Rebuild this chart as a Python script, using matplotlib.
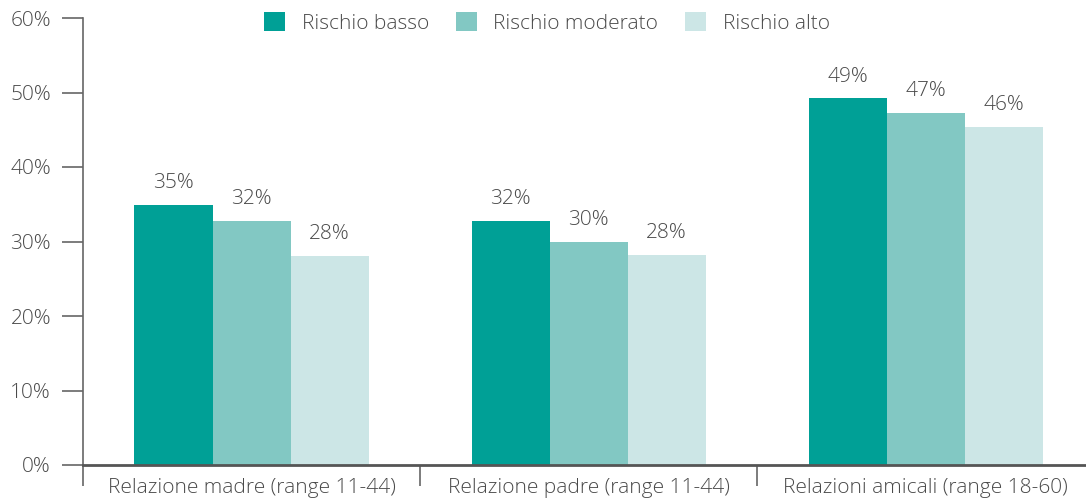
import numpy as np
import matplotlib.pyplot as plt

plt.rcParams["font.family"] = ["Open Sans", "DejaVu Sans"]
plt.rcParams["font.weight"] = "light"

# 데이터
categories = ["Relazione madre (range 11-44)", "Relazione padre (range 11-44)", "Relazioni amicali (range 18-60)"]
series = ["Rischio basso", "Rischio moderato", "Rischio alto"]
basso = [34.9, 32.7, 49.2]
moderato = [32.7, 30.0, 47.3]
alto = [28.0, 28.2, 45.4]
labels = [["35%", "32%", "49%"], ["32%", "30%", "47%"], ["28%", "28%", "46%"]]
colors = ["#00A096", "#82C8C3", "#CCE6E6"]

fig = plt.figure(figsize=(10.86, 5.04), dpi=100)
ax = fig.add_axes([83 / 1086, 39 / 504, 1 - 83 / 1086, 447 / 504])

x = np.arange(len(categories))
w = 0.2315
text_col = "#4a4a4a"
fs = 15
for i, (vals, name) in enumerate(zip([basso, moderato, alto], series)):
    pos = x + (i - 1) * w
    ax.bar(pos, vals, width=w, color=colors[i], label=name)
    for p, v, lab in zip(pos, vals, labels[i]):
        ax.text(p, v + 1.6, lab, ha="center", va="bottom", fontsize=fs, color=text_col)

ax.set_xlim(-0.5, 2.476)
ax.set_ylim(0, 60)
ax.set_yticks(range(0, 61, 10))
ax.set_yticklabels([f"{t}%" for t in range(0, 61, 10)], fontsize=fs, color=text_col)
ax.tick_params(axis="y", length=15, width=1.2, color="#666666", pad=8)

# 카테고리 라벨, 구분선 눈금
ax.set_xticks(x)
ax.set_xticklabels(categories, fontsize=fs, color=text_col)
ax.tick_params(axis="x", which="major", length=0, pad=9)
ax.set_xticks([-0.5, 0.5, 1.5], minor=True)
ax.tick_params(axis="x", which="minor", length=15, width=1.2, color="#666666")

for s in ["top", "right"]:
    ax.spines[s].set_visible(False)
ax.spines["left"].set_color("#666666")
ax.spines["left"].set_linewidth(1.2)
ax.spines["bottom"].set_color("#555555")
ax.spines["bottom"].set_linewidth(2)

fig.legend(loc="center", bbox_to_anchor=(547 / 1086, 1 - 23 / 504), ncol=3, frameon=False,
           fontsize=fs, handlelength=1.0, handleheight=1.0, handletextpad=0.8, columnspacing=1.3,
           labelcolor=text_col)

fig.savefig("out.png", dpi=100)
